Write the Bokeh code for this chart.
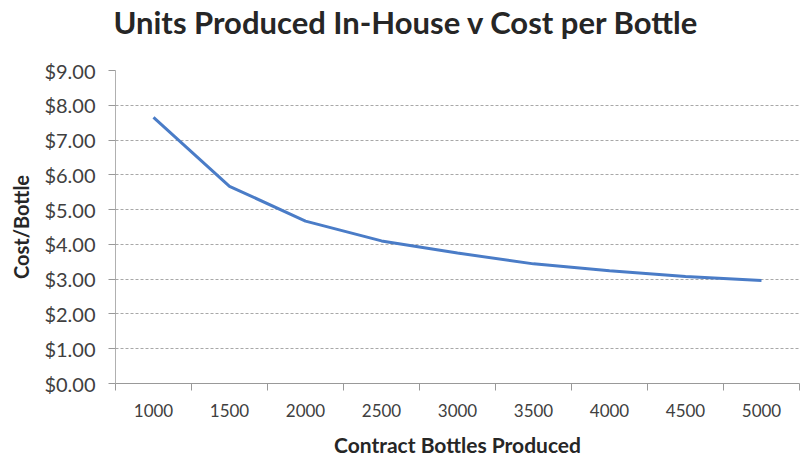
from bokeh.plotting import figure
from bokeh.models import FixedTicker, NumeralTickFormatter, Range1d, Title
from bokeh.embed import file_html
from bokeh.resources import INLINE

bottles = [1000, 1500, 2000, 2500, 3000, 3500, 4000, 4500, 5000]
cost = [7.65, 5.67, 4.67, 4.10, 3.75, 3.44, 3.24, 3.08, 2.96]
y_ticks = [0, 1, 2, 3, 4, 5, 6, 7, 8, 9]
x_bounds = [750, 1250, 1750, 2250, 2750, 3250, 3750, 4250, 4750, 5250]
title_text = "Units Produced In-House v Cost per Bottle"

FONT = "Lato"
TXT = "#404040"

p = figure(width=804, height=462, output_backend="svg", toolbar_location=None,
           x_range=Range1d(750, 5250), y_range=Range1d(0, 9),
           min_border_left=115, min_border_right=5, min_border_top=0, min_border_bottom=79)
p.outline_line_color = None
p.background_fill_color = "white"
p.border_fill_color = "white"

# spacer (nearest the frame), then the visible title above it
spacer = Title(text=" ", text_font=FONT, text_font_size="20px", standoff=4)
p.add_layout(spacer, "above")
t = Title(text=title_text, align="left", offset=-2,
          text_font=FONT, text_font_size="31px", text_font_style="bold",
          text_color="#262626", standoff=0)
p.add_layout(t, "above")

p.line(bottles, cost, line_color="#4A7CC7", line_width=3)

xa = p.xaxis[0]
xa.ticker = FixedTicker(ticks=bottles, minor_ticks=x_bounds)
xa.major_tick_out = 0
xa.major_tick_in = 0
xa.minor_tick_out = 7
xa.minor_tick_in = 0
xa.minor_tick_line_color = "#999999"
xa.axis_line_color = "#999999"
xa.major_label_text_font = FONT
xa.major_label_text_font_size = "17px"
xa.major_label_text_color = TXT
xa.major_label_standoff = 13
xa.axis_label = "Contract Bottles Produced"
xa.axis_label_text_font = FONT
xa.axis_label_text_font_size = "21px"
xa.axis_label_text_font_style = "bold"
xa.axis_label_text_color = "#262626"
xa.axis_label_standoff = 12

ya = p.yaxis[0]
ya.ticker = FixedTicker(ticks=y_ticks)
ya.formatter = NumeralTickFormatter(format="$0.00")
ya.major_tick_out = 7
ya.major_tick_in = 0
ya.minor_tick_out = 0
ya.minor_tick_in = 0
ya.major_tick_line_color = "#999999"
ya.axis_line_color = "#b0b0b0"
ya.major_label_text_font = FONT
ya.major_label_text_font_size = "20px"
ya.major_label_text_color = TXT
ya.major_label_standoff = 13
ya.axis_label = "Cost/Bottle"
ya.axis_label_text_font = FONT
ya.axis_label_text_font_size = "20px"
ya.axis_label_text_font_style = "bold"
ya.axis_label_text_color = "#262626"
ya.axis_label_standoff = 8

p.xgrid.grid_line_color = None
p.ygrid.grid_line_color = "#a8a8a8"
p.ygrid.grid_line_dash = "3 2"
p.ygrid.grid_line_width = 1

open("out.html", "w").write(file_html(p, INLINE))
